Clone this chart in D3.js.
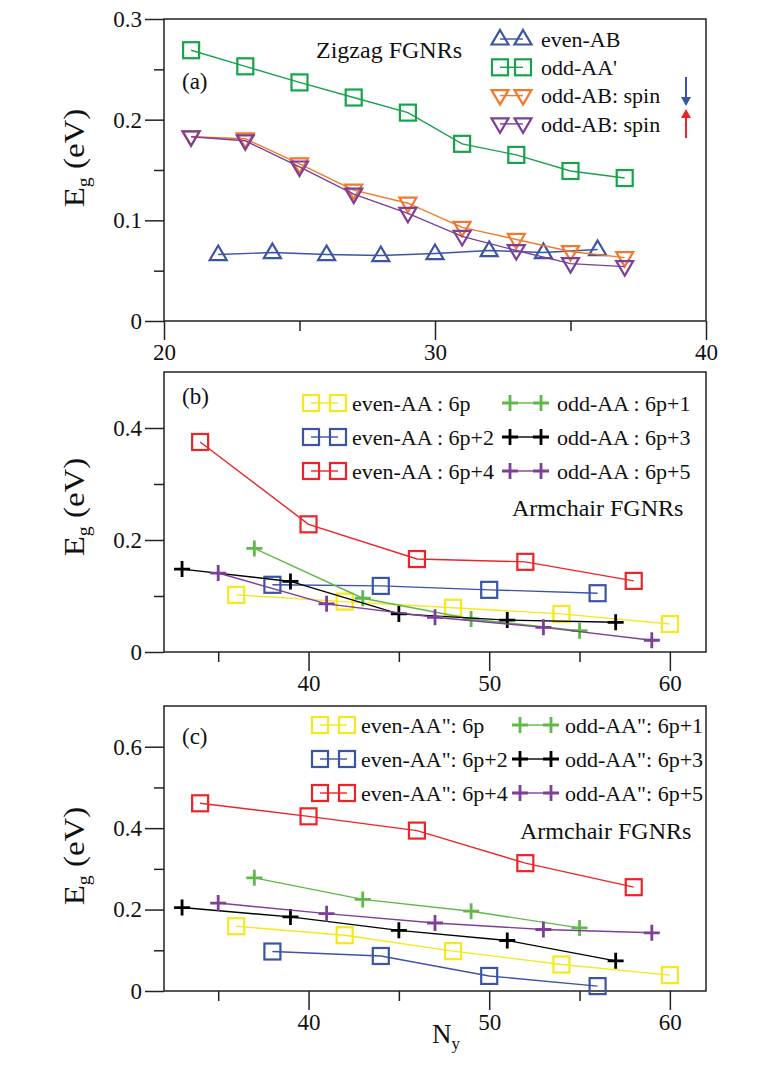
<!DOCTYPE html>
<html>
<head>
<meta charset="utf-8">
<script src="https://cdn.jsdelivr.net/npm/d3@7"></script>
<style>
body { margin: 0; background: #fff; }
svg { display: block; }
svg text { font-family: "Liberation Serif", "DejaVu Serif", serif !important; fill: #111; }
</style>
</head>
<body>
<div id="chart-container"></div>
<script>
// ---- (a) zigzag FGNRs
var zz_ny_even = [22, 24, 26, 28, 30, 32, 34, 36];
var zz_ny_odd = [21, 23, 25, 27, 29, 31, 33, 35, 37];
var zz_eg_even_ab = [0.066, 0.068, 0.066, 0.065, 0.067, 0.070, 0.068, 0.071];
var zz_eg_odd_aa = [0.269, 0.253, 0.237, 0.222, 0.207, 0.176, 0.165, 0.149, 0.142];
var zz_eg_odd_ab_down = [0.183, 0.181, 0.156, 0.130, 0.117, 0.093, 0.081, 0.069, 0.063];
var zz_eg_odd_ab_up = [0.183, 0.179, 0.153, 0.126, 0.107, 0.084, 0.070, 0.057, 0.054];
var zz_labels = ["even-AB", "odd-AA'", "odd-AB: spin", "odd-AB: spin"];

// ---- (b), (c) armchair FGNRs, Ny by family
var ny_6p = [36, 42, 48, 54, 60];
var ny_6p1 = [37, 43, 49, 55];
var ny_6p2 = [38, 44, 50, 56];
var ny_6p3 = [33, 39, 45, 51, 57];
var ny_6p4 = [34, 40, 46, 52, 58];
var ny_6p5 = [35, 41, 47, 53, 59];

// (b) AA stacking
var ac_aa_6p = [0.102, 0.090, 0.079, 0.068, 0.050];
var ac_aa_6p2 = [0.120, 0.118, 0.111, 0.105];
var ac_aa_6p4 = [0.375, 0.228, 0.166, 0.161, 0.127];
var ac_aa_6p1 = [0.185, 0.096, 0.059, 0.038];
var ac_aa_6p3 = [0.148, 0.126, 0.068, 0.057, 0.053];
var ac_aa_6p5 = [0.141, 0.086, 0.062, 0.044, 0.021];
var ac_aa_labels = ["even-AA : 6p", "even-AA : 6p+2", "even-AA : 6p+4",
  "odd-AA : 6p+1", "odd-AA : 6p+3", "odd-AA : 6p+5"];

// (c) AA'' stacking
var ac_aa2_6p = [0.159, 0.137, 0.098, 0.065, 0.039];
var ac_aa2_6p2 = [0.097, 0.086, 0.037, 0.012];
var ac_aa2_6p4 = [0.461, 0.429, 0.394, 0.314, 0.255];
var ac_aa2_6p1 = [0.278, 0.225, 0.196, 0.155];
var ac_aa2_6p3 = [0.205, 0.182, 0.149, 0.124, 0.074];
var ac_aa2_6p5 = [0.216, 0.190, 0.167, 0.151, 0.143];
var ac_aa2_labels = ['even-AA": 6p', 'even-AA": 6p+2', 'even-AA": 6p+4',
  'odd-AA": 6p+1', 'odd-AA": 6p+3', 'odd-AA": 6p+5'];

// ---- ticks
var zz_x_major = [20, 30, 40], zz_x_minor = [25, 35];
var zz_y_major = [0, 0.1, 0.2, 0.3], zz_y_minor = [0.05, 0.15, 0.25];
var ac_x_major = [40, 50, 60], ac_x_minor = [35, 45, 55];
var b_y_major = [0, 0.2, 0.4], b_y_minor = [0.1, 0.3];
var c_y_major = [0, 0.2, 0.4, 0.6], c_y_minor = [0.1, 0.3, 0.5];

var col = {
  blue: "#3b54a5", green: "#16a349", orange: "#f4782a", purple: "#7e3f98",
  yellow: "#f5e81c", red: "#ee2329", lime: "#5fb946", black: "#000"
};
var serif = '"Liberation Serif", "DejaVu Serif", serif';

var svg = d3.select("#chart-container").append("svg")
  .attr("width", 763).attr("height", 1079)
  .attr("font-family", serif);

var frame_left = 164, frame_right = 706;

var panels = [
  {
    tag: "(a)", top: 19, bottom: 321, xdom: [20, 40], ydom: [0, 0.3],
    x_major: zz_x_major, x_minor: zz_x_minor, y_major: zz_y_major, y_minor: zz_y_minor,
    ylab_y: 158, tag_y: 89,
    series: [
      { x: zz_ny_even, y: zz_eg_even_ab, c: col.blue, m: "tri_up", label: zz_labels[0] },
      { x: zz_ny_odd, y: zz_eg_odd_aa, c: col.green, m: "square", label: zz_labels[1] },
      { x: zz_ny_odd, y: zz_eg_odd_ab_down, c: col.orange, m: "tri_down", label: zz_labels[2] },
      { x: zz_ny_odd, y: zz_eg_odd_ab_up, c: col.purple, m: "tri_down", label: zz_labels[3] }
    ],
    legend: { cols: [[500, 523, 541]], y0: 39, dy: 28.3 },
    title: { text: "Zigzag FGNRs", x: 316, y: 58 }
  },
  {
    tag: "(b)", top: 372, bottom: 652, xdom: [32, 62], ydom: [0, 0.5],
    x_major: ac_x_major, x_minor: ac_x_minor, y_major: b_y_major, y_minor: b_y_minor,
    ylab_y: 507, tag_y: 404,
    series: [
      { x: ny_6p, y: ac_aa_6p, c: col.yellow, m: "square", label: ac_aa_labels[0] },
      { x: ny_6p2, y: ac_aa_6p2, c: col.blue, m: "square", label: ac_aa_labels[1] },
      { x: ny_6p4, y: ac_aa_6p4, c: col.red, m: "square", label: ac_aa_labels[2] },
      { x: ny_6p1, y: ac_aa_6p1, c: col.lime, m: "plus", label: ac_aa_labels[3] },
      { x: ny_6p3, y: ac_aa_6p3, c: col.black, m: "plus", label: ac_aa_labels[4] },
      { x: ny_6p5, y: ac_aa_6p5, c: col.purple, m: "plus", label: ac_aa_labels[5] }
    ],
    legend: { cols: [[311, 338, 352], [510, 541, 557]], y0: 403, dy: 34 },
    title: { text: "Armchair FGNRs", x: 512, y: 516 }
  },
  {
    tag: "(c)", top: 706, bottom: 991, xdom: [32, 62], ydom: [0, 0.7],
    x_major: ac_x_major, x_minor: ac_x_minor, y_major: c_y_major, y_minor: c_y_minor,
    ylab_y: 856, tag_y: 744,
    series: [
      { x: ny_6p, y: ac_aa2_6p, c: col.yellow, m: "square", label: ac_aa2_labels[0] },
      { x: ny_6p2, y: ac_aa2_6p2, c: col.blue, m: "square", label: ac_aa2_labels[1] },
      { x: ny_6p4, y: ac_aa2_6p4, c: col.red, m: "square", label: ac_aa2_labels[2] },
      { x: ny_6p1, y: ac_aa2_6p1, c: col.lime, m: "plus", label: ac_aa2_labels[3] },
      { x: ny_6p3, y: ac_aa2_6p3, c: col.black, m: "plus", label: ac_aa2_labels[4] },
      { x: ny_6p5, y: ac_aa2_6p5, c: col.purple, m: "plus", label: ac_aa2_labels[5] }
    ],
    legend: { cols: [[320, 347, 361], [520, 551, 565]], y0: 725, dy: 34 },
    title: { text: "Armchair FGNRs", x: 520, y: 839 },
    xlabel: true
  }
];

panels.forEach(draw_panel);

// draw one open marker centred on (0,0)
function draw_marker(g, shape, color) {
  if (shape === "square") {
    g.append("rect").attr("x", -8).attr("y", -8).attr("width", 16).attr("height", 16)
      .attr("fill", "none").attr("stroke", color).attr("stroke-width", 2.2);
  } else if (shape === "tri_up") {
    g.append("path").attr("d", "M0,-9L8.5,5.5L-8.5,5.5Z")
      .attr("fill", "none").attr("stroke", color).attr("stroke-width", 2.2);
  } else if (shape === "tri_down") {
    g.append("path").attr("d", "M0,9L8.5,-5.5L-8.5,-5.5Z")
      .attr("fill", "none").attr("stroke", color).attr("stroke-width", 2.2);
  } else {
    g.append("path").attr("d", "M-8,0H8M0,-8V8")
      .attr("fill", "none").attr("stroke", color).attr("stroke-width", 2.8);
  }
}

function draw_panel(p) {
  var x = d3.scaleLinear().domain(p.xdom).range([frame_left, frame_right]);
  var y = d3.scaleLinear().domain(p.ydom).range([p.bottom, p.top]);
  var g = svg.append("g");

  // axes: long ticks with labels, short ticks without
  var fmt = function(d) { return d === 0 ? "0" : d3.format(".1f")(d); };
  g.append("g").attr("transform", "translate(0," + p.bottom + ")")
    .call(d3.axisBottom(x).tickValues(p.x_major).tickSize(19).tickPadding(4))
    .call(style_axis);
  g.append("g").attr("transform", "translate(0," + p.bottom + ")")
    .call(d3.axisBottom(x).tickValues(p.x_minor).tickSize(10).tickFormat(""))
    .call(style_axis);
  g.append("g").attr("transform", "translate(" + frame_left + ",0)")
    .call(d3.axisLeft(y).tickValues(p.y_major).tickSize(19).tickPadding(3).tickFormat(fmt))
    .call(style_axis);
  g.append("g").attr("transform", "translate(" + frame_left + ",0)")
    .call(d3.axisLeft(y).tickValues(p.y_minor).tickSize(10).tickFormat(""))
    .call(style_axis);

  g.append("rect")
    .attr("x", frame_left).attr("y", p.top)
    .attr("width", frame_right - frame_left).attr("height", p.bottom - p.top)
    .attr("fill", "none").attr("stroke", "#222").attr("stroke-width", 1.5);

  // y label E_g (eV), slightly stretched along its length as in the original
  var yl = g.append("text")
    .attr("transform", "translate(84," + p.ylab_y + ") rotate(-90) scale(1.1,1)")
    .attr("text-anchor", "middle")
    .attr("font-size", "30px");
  yl.append("tspan").text("E");
  yl.append("tspan").attr("font-size", "18px").attr("dy", 6).text("g");
  yl.append("tspan").attr("dy", -6).text(" (eV)");

  g.append("text").attr("x", 182).attr("y", p.tag_y)
    .attr("font-size", "23px").text(p.tag);
  g.append("text").attr("x", p.title.x).attr("y", p.title.y)
    .attr("font-size", "24px").text(p.title.text);

  // series
  var line = d3.line().x(function(d) { return x(d[0]); }).y(function(d) { return y(d[1]); });
  p.series.forEach(function(s) {
    var pts = s.x.map(function(v, i) { return [v, s.y[i]]; });
    g.append("path").datum(pts).attr("d", line)
      .attr("fill", "none").attr("stroke", s.c).attr("stroke-width", 1.4);
    g.selectAll(null).data(pts).enter().append("g")
      .attr("transform", function(d) { return "translate(" + x(d[0]) + "," + y(d[1]) + ")"; })
      .each(function() { draw_marker(d3.select(this), s.m, s.c); });
  });

  // legend, rows go down each column
  var per_col = Math.ceil(p.series.length / p.legend.cols.length);
  p.series.forEach(function(s, i) {
    var c = p.legend.cols[Math.floor(i / per_col)];
    var ry = p.legend.y0 + (i % per_col) * p.legend.dy;
    g.append("line").attr("x1", c[0]).attr("x2", c[1]).attr("y1", ry).attr("y2", ry)
      .attr("stroke", s.c).attr("stroke-width", 1.4);
    draw_marker(g.append("g").attr("transform", "translate(" + c[0] + "," + ry + ")"), s.m, s.c);
    draw_marker(g.append("g").attr("transform", "translate(" + c[1] + "," + ry + ")"), s.m, s.c);
    g.append("text").attr("x", c[2]).attr("y", ry).attr("dy", "0.35em")
      .attr("font-size", "22px").text(s.label);
  });

  if (p.tag === "(a)") {
    // spin arrows
    g.append("path").attr("d", "M686,77V99").attr("stroke", col.blue).attr("stroke-width", 2);
    g.append("path").attr("d", "M681,97L691,97L686,106Z").attr("fill", col.blue);
    g.append("path").attr("d", "M686,138V116").attr("stroke", col.red).attr("stroke-width", 2);
    g.append("path").attr("d", "M681,118L691,118L686,109Z").attr("fill", col.red);
  }

  if (p.xlabel) {
    var xl = g.append("text").attr("x", 432).attr("y", 1043).attr("font-size", "27px");
    xl.append("tspan").text("N");
    xl.append("tspan").attr("font-size", "17px").attr("dy", 6).text("y");
  }
}

function style_axis(sel) {
  sel.attr("font-family", serif);
  sel.select(".domain").remove();
  sel.selectAll(".tick line").attr("stroke", "#222").attr("stroke-width", 1.5);
  sel.selectAll(".tick text")
    .attr("font-size", "23px").attr("fill", "#222");
}
</script>
</body>
</html>
